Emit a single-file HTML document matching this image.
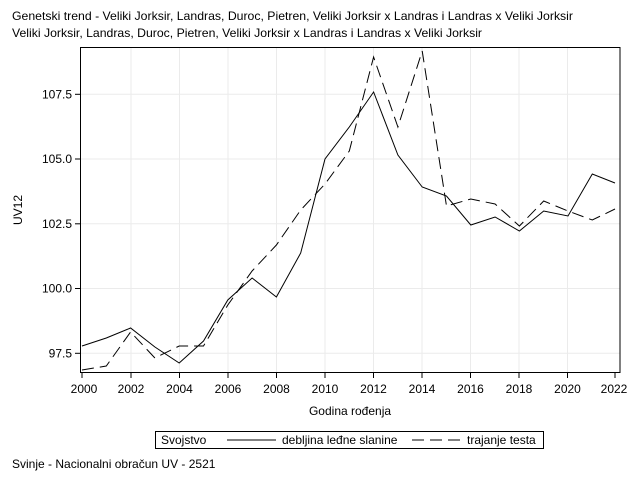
<!DOCTYPE html>
<html><head><meta charset="utf-8"><style>
body{margin:0;background:#fff;width:640px;height:480px;overflow:hidden}
text{font-family:"Liberation Sans",Arial,sans-serif;fill:#000}
</style></head><body>
<svg width="640" height="480" viewBox="0 0 640 480" xmlns="http://www.w3.org/2000/svg">
<text x="12" y="20" font-size="12" textLength="561" lengthAdjust="spacingAndGlyphs">Genetski trend - Veliki Jorksir, Landras, Duroc, Pietren, Veliki Jorksir x Landras i Landras x Veliki Jorksir</text>
<text x="12" y="37" font-size="12" textLength="470" lengthAdjust="spacingAndGlyphs">Veliki Jorksir, Landras, Duroc, Pietren, Veliki Jorksir x Landras i Landras x Veliki Jorksir</text>
<g stroke="#ebebeb" stroke-width="1">
<line x1="80.5" y1="94.3" x2="620" y2="94.3"/><line x1="80.5" y1="159" x2="620" y2="159"/><line x1="80.5" y1="223.8" x2="620" y2="223.8"/><line x1="80.5" y1="288.5" x2="620" y2="288.5"/><line x1="80.5" y1="353.3" x2="620" y2="353.3"/>
<line x1="131" y1="47" x2="131" y2="372"/><line x1="179.5" y1="47" x2="179.5" y2="372"/><line x1="228" y1="47" x2="228" y2="372"/><line x1="276.5" y1="47" x2="276.5" y2="372"/><line x1="325" y1="47" x2="325" y2="372"/><line x1="373.5" y1="47" x2="373.5" y2="372"/><line x1="422" y1="47" x2="422" y2="372"/><line x1="470.5" y1="47" x2="470.5" y2="372"/><line x1="519" y1="47" x2="519" y2="372"/><line x1="567.5" y1="47" x2="567.5" y2="372"/>
</g>
<rect x="80.5" y="47.5" width="539.5" height="325" fill="none" stroke="#000" stroke-width="1"/>
<g stroke="#000" stroke-width="1">
<line x1="75" y1="94.3" x2="80.5" y2="94.3"/><line x1="75" y1="159" x2="80.5" y2="159"/><line x1="75" y1="223.8" x2="80.5" y2="223.8"/><line x1="75" y1="288.5" x2="80.5" y2="288.5"/><line x1="75" y1="353.3" x2="80.5" y2="353.3"/>
</g>
<g font-size="12" text-anchor="end">
<text x="72" y="98.5">107.5</text><text x="72" y="163">105.0</text><text x="72" y="228">102.5</text><text x="72" y="292.5">100.0</text><text x="72" y="357.5">97.5</text>
</g>
<g stroke="#000"><line x1="82" y1="372" x2="82" y2="378"/><line x1="131" y1="372" x2="131" y2="378"/><line x1="179.5" y1="372" x2="179.5" y2="378"/><line x1="228" y1="372" x2="228" y2="378"/><line x1="276.5" y1="372" x2="276.5" y2="378"/><line x1="325" y1="372" x2="325" y2="378"/><line x1="373.5" y1="372" x2="373.5" y2="378"/><line x1="422" y1="372" x2="422" y2="378"/><line x1="470.5" y1="372" x2="470.5" y2="378"/><line x1="519" y1="372" x2="519" y2="378"/><line x1="567.5" y1="372" x2="567.5" y2="378"/><line x1="615" y1="372" x2="615" y2="378"/></g>
<g font-size="12" text-anchor="middle">
<text x="84" y="393">2000</text><text x="131" y="393">2002</text><text x="179.5" y="393">2004</text><text x="228" y="393">2006</text><text x="276.5" y="393">2008</text><text x="325" y="393">2010</text><text x="373.5" y="393">2012</text><text x="422" y="393">2014</text><text x="470.5" y="393">2016</text><text x="519" y="393">2018</text><text x="567.5" y="393">2020</text><text x="614" y="393">2022</text>
</g>
<text x="350" y="415" font-size="12" text-anchor="middle">Godina rođenja</text>
<text x="0" y="0" font-size="12" text-anchor="middle" transform="translate(22,210) rotate(-90)">UV12</text>
<polyline fill="none" stroke="#000" stroke-width="1" points="82,346 106.3,338 130.6,328 154.9,347 179.2,363 203.5,341 227.8,300 252.1,278 276.4,297 300.7,253 325,159 349.3,127 373.6,92 397.9,155 422.2,187 446.5,196 470.8,225 495.1,217 519.4,231 543.7,211 568,216 592.3,174 615,183"/>
<polyline fill="none" stroke="#000" stroke-width="1" stroke-dasharray="12,6" points="82,370 106.3,366 130.6,332 154.9,358 179.2,346 203.5,346 227.8,305 252.1,271 276.4,245 300.7,210 325,184 349.3,151 373.6,57 397.9,127 422.2,51 446.5,206 470.8,199 495.1,204 519.4,226 543.7,201 568,211 592.3,220 615,209"/>
<rect x="155.5" y="431.5" width="388" height="17" fill="none" stroke="#000"/>
<text x="161" y="444" font-size="12">Svojstvo</text>
<line x1="227" y1="440" x2="276" y2="440" stroke="#000"/>
<text x="282" y="444" font-size="12">debljina leđne slanine</text>
<line x1="412" y1="440" x2="461" y2="440" stroke="#000" stroke-dasharray="12,6"/>
<text x="467" y="444" font-size="12">trajanje testa</text>
<text x="12" y="468" font-size="12">Svinje - Nacionalni obračun UV - 2521</text>
</svg>
</body></html>
